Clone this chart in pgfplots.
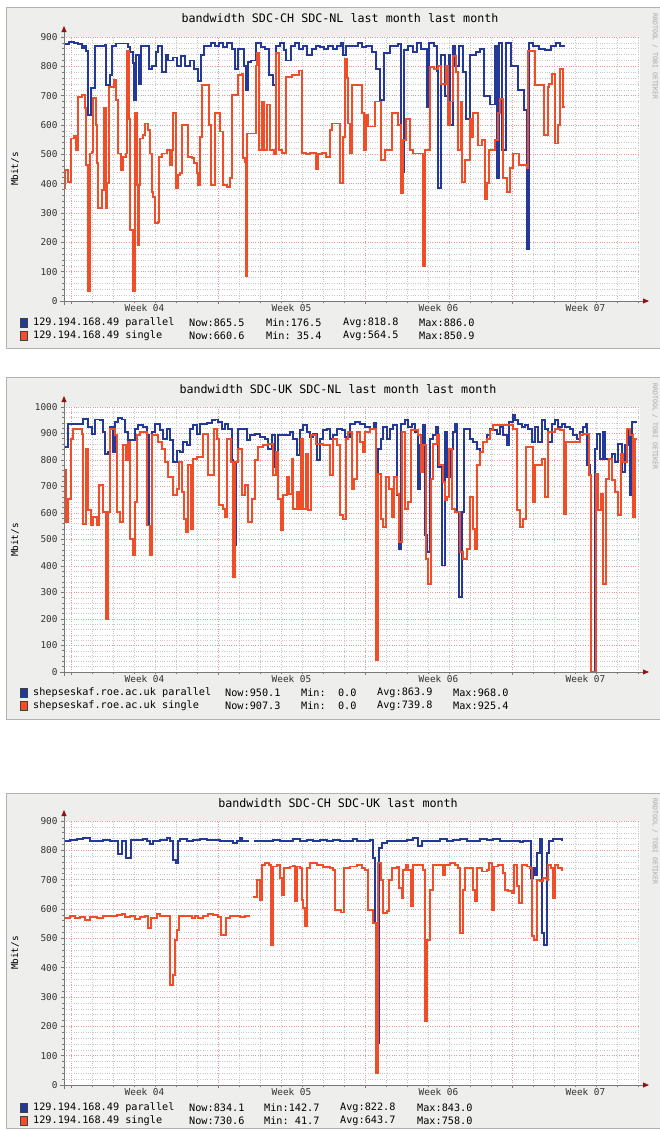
\documentclass[border=0pt]{standalone}
\usepackage{fontspec}
\setmainfont{DejaVu Sans Mono}
\usepackage{pgfplots}
\pgfplotsset{compat=1.18}
\usetikzlibrary{arrows.meta}
\definecolor{rrdblue}{RGB}{36,56,152}
\definecolor{rrdorange}{RGB}{240,78,40}
\definecolor{rrdframe}{RGB}{238,238,236}
\definecolor{rrdaxis}{RGB}{120,120,120}
\definecolor{rrdarrow}{RGB}{140,20,20}
\definecolor{rrdmgrid}{RGB}{232,150,150}
\definecolor{rrdgrid}{RGB}{200,200,200}

\newcommand\tfont{\fontsize{11.7bp}{13bp}\selectfont}
\newcommand\lfont{\fontsize{10.2bp}{12bp}\selectfont}
\newcommand\afont{\fontsize{9.4bp}{11bp}\selectfont}

\pgfplotsset{
  rrd/.style={
    scale only axis, width=576bp, anchor=south west,
    xmin=64, xmax=640, ymin=0,
    axis line style={draw=none},
    axis background/.style={fill=white},
    xtick={71,218,365,512}, xticklabels={},
    minor xtick={92,113,...,638},
    grid=both,
    major grid style={rrdmgrid, dotted, line width=0.6bp},
    minor grid style={rrdgrid, dotted, line width=0.5bp},
    tick style={rrdaxis, line width=0.7bp},
    major tick length=3bp, minor tick length=2bp,
    tick align=outside, tick pos=left,
    extra x ticks={144.5,291.5,438.5,585.5},
    extra x tick labels={Week 04,Week 05,Week 06,Week 07},
    extra x tick style={grid=none, major tick length=0pt},
    ticklabel style={font=\afont, text=black!80},
    /pgf/number format/assume math mode=true,
    /pgf/number format/1000 sep={},
    minor y tick num=4,
    unbounded coords=jump,
  },
  par/.style={rrdblue, line width=1.9bp, const plot},
  sgl/.style={rrdorange, line width=1.9bp, const plot},
}

\begin{document}
\begin{tikzpicture}
\path[use as bounding box] (0,0) rectangle (660bp,-1131bp);
\fill[white] (0,0) rectangle (660bp,-1131bp);
% frames
\filldraw[fill=rrdframe, draw=black!30, line width=0.8bp] (6bp,-7bp) rectangle (662bp,-348bp);
\filldraw[fill=rrdframe, draw=black!30, line width=0.8bp] (6bp,-377bp) rectangle (662bp,-719bp);
\filldraw[fill=rrdframe, draw=black!30, line width=0.8bp] (6bp,-793bp) rectangle (662bp,-1128bp);

% ---------------- panel 1 ----------------
\begin{axis}[rrd, at={(64bp,-301bp)}, height=264bp, ymax=900, ytick={0,100,...,900}]
\addplot[par] table {
x y
65 875
69 884
74 880
78 875
82 864
84 868
86 853
88 635
91 725
95 870
99 870
105 872
106 735
110 770
112 870
116 878
126 878
128 865
130 850
133 810
134 685
136 840
139 740
141 870
145 870
149 790
152 800
156 850
158 870
162 780
166 840
168 820
173 830
177 800
181 835
185 800
190 820
194 790
198 750
201 840
204 870
211 880
215 870
219 880
223 865
227 880
232 860
235 790
238 860
244 800
246 720
248 815
251 820
256 880
261 865
265 860
269 770
273 735
276 870
280 880
284 855
286 820
291 870
295 880
299 860
303 870
307 840
312 860
316 870
320 865
324 860
328 870
333 860
337 870
341 880
343 840
346 870
352 870
358 880
362 865
366 870
372 850
376 790
380 685
384 845
390 870
394 870
398 875
401 441
404 855
408 870
413 850
417 880
421 860
427 660
429 880
434 870
437 785
438 384
441 840
445 700
449 840
450 600
453 870
455 800
459 870
463 780
466 620
470 840
476 850
480 860
484 700
490 670
495 870
497 418
499 880
502 515
506 880
511 800
518 720
524 650
527 176
529 880
533 870
539 860
545 855
551 870
556 880
560 870
564 865
};
\addplot[sgl] table {
x y
64 384
65 446
68 407
71 554
74 562
76 515
78 696
82 702
85 657
86 464
88 35
90 503
92 509
93 691
96 600
97 469
98 316
102 378
104 657
106 316
107 401
109 730
114 752
116 685
118 503
121 446
123 492
126 503
127 853
129 620
130 242
133 35
135 640
137 395
138 191
139 395
140 554
143 566
145 605
148 583
150 503
152 372
153 355
155 265
158 270
159 492
162 503
167 515
170 464
172 515
173 640
176 384
178 430
180 435
182 600
185 600
188 492
192 486
194 470
197 435
198 395
200 560
202 735
209 600
211 395
215 640
220 578
223 395
227 390
230 420
232 702
238 769
242 775
243 486
245 475
246 85
247 571
252 571
256 803
257 847
259 515
262 680
264 515
267 670
270 515
274 500
276 847
279 515
282 505
286 763
292 770
299 786
302 505
306 500
310 505
316 451
318 500
322 505
326 490
330 583
332 605
340 401
343 560
345 825
347 760
348 605
350 503
352 736
362 640
364 515
366 635
368 595
375 680
381 481
385 515
392 640
398 600
401 367
403 549
406 620
410 515
413 503
423 119
425 515
430 797
434 790
438 802
441 740
446 802
448 600
450 680
453 836
456 780
458 515
461 680
462 407
465 481
470 620
472 560
473 640
478 530
482 549
485 349
487 401
489 515
495 549
498 640
500 690
503 418
507 372
510 452
513 503
519 464
527 452
528 853
535 736
544 566
548 730
549 740
552 775
555 537
558 600
560 791
563 660
565 660
};
\end{axis}

% ---------------- panel 2 ----------------
\begin{axis}[rrd, at={(64bp,-672bp)}, height=265bp, ymax=1000, ytick={0,100,...,1000}]
\addplot[par] table {
x y
64 849
67 849
68 937
82 937
83 956
86 956
88 925
92 899
95 953
100 950
103 906
105 824
108 830
110 925
113 830
115 943
118 958
122 953
125 906
128 874
135 918
138 931
143 925
147 893
149 553
152 906
155 937
158 937
160 912
163 880
167 918
170 874
173 792
177 836
180 830
183 868
187 855
190 918
193 931
197 899
200 937
207 941
212 950
215 953
218 943
222 918
225 937
228 918
232 799
233 478
236 792
238 918
247 874
250 893
255 899
260 887
265 880
268 843
272 893
275 774
278 893
283 893
290 906
293 880
297 818
300 912
303 931
307 906
310 887
313 899
317 799
320 880
323 912
327 918
330 880
333 893
337 918
342 912
345 887
350 937
355 943
360 937
365 925
370 918
374 941
376 472
378 843
381 880
383 925
387 880
390 918
393 931
397 667
399 465
401 937
405 950
408 925
412 937
415 906
418 692
420 855
423 931
425 516
427 453
430 880
433 893
436 925
438 774
442 402
445 906
447 736
450 843
453 906
455 937
457 604
459 283
462 604
464 918
470 880
473 868
477 843
480 830
483 868
487 893
490 918
493 912
497 899
500 925
503 893
507 855
509 943
513 969
515 950
518 937
522 925
525 931
528 918
532 868
535 925
538 868
542 950
545 918
548 868
552 937
555 950
558 925
562 937
565 925
570 918
573 893
577 880
580 906
583 925
586 937
587 780
590 742
591 0
594 0
595 843
597 899
600 805
603 906
605 805
608 805
612 824
615 792
618 862
622 755
625 855
628 918
630 667
632 943
637 943
};
\addplot[sgl] table {
x y
64 761
66 566
68 654
71 880
73 918
82 899
83 560
86 843
88 610
91 553
93 585
97 553
99 704
103 604
106 201
108 604
110 918
115 893
117 604
120 566
123 855
126 799
128 868
130 503
133 440
135 642
137 893
140 906
147 553
150 440
152 893
158 868
162 843
165 792
168 736
173 667
177 692
179 792
182 679
184 579
186 528
188 780
191 541
193 805
197 811
203 899
208 742
214 918
217 880
219 629
223 616
225 585
227 880
231 792
233 358
235 792
238 843
242 667
245 704
248 566
252 654
255 799
258 849
263 855
268 862
273 742
276 830
278 654
281 535
283 667
287 736
289 673
292 805
293 616
297 679
299 616
301 880
303 616
306 824
308 610
311 893
316 862
323 855
330 742
333 880
337 855
340 591
343 579
346 880
348 906
352 692
354 730
357 906
360 868
363 830
365 906
370 918
376 44
378 748
381 579
383 547
386 736
389 692
392 585
394 736
397 673
399 491
402 906
405 616
408 642
411 912
418 893
421 755
423 855
426 428
428 333
431 730
433 862
437 893
439 780
443 717
445 648
447 660
449 843
452 616
455 604
460 453
463 428
467 465
470 660
473 541
475 465
477 780
480 830
483 868
487 880
490 912
493 931
513 918
517 610
520 547
523 579
526 849
533 642
535 780
542 805
545 660
548 906
555 918
560 912
564 597
566 868
580 893
583 899
589 742
591 0
594 0
596 748
598 610
601 673
603 333
606 730
609 805
612 723
615 679
618 591
621 824
623 792
627 918
630 893
633 585
635 880
637 880
};
\end{axis}

% ---------------- panel 3 ----------------
\begin{axis}[rrd, at={(64bp,-1085bp)}, height=264bp, ymax=900, ytick={0,100,...,900}]
\addplot[par] table {
x y
64 833
70 836
77 838
83 841
90 833
97 833
103 836
110 833
117 833
118 787
122 832
125 832
126 773
129 773
131 836
137 836
143 838
147 833
150 822
153 832
160 836
167 841
170 832
173 768
176 756
178 832
180 838
187 833
193 836
200 838
207 836
213 836
220 833
227 833
233 824
237 832
240 841
242 833
249 833
251 nan
254 833
260 833
267 832
273 836
280 833
287 833
293 838
300 832
307 836
313 832
320 836
327 833
333 836
340 832
347 833
353 838
357 832
363 833
370 836
373 773
375 552
377 144
379 807
382 824
387 832
393 833
400 832
407 836
413 841
417 841
418 815
422 832
427 832
433 833
440 838
447 833
453 836
460 838
467 833
473 833
480 838
487 836
493 838
500 833
507 833
513 833
520 827
523 833
529 832
531 705
533 739
535 717
537 790
540 838
542 518
544 478
547 790
549 833
553 838
562 833
};
\addplot[sgl] table {
x y
64 569
70 575
75 569
80 573
85 563
90 573
97 569
103 575
110 577
117 580
122 584
125 573
130 575
135 566
140 573
145 575
148 535
151 569
153 569
157 584
160 575
168 575
170 342
173 376
175 495
177 529
179 575
183 577
188 575
192 569
195 577
198 569
203 577
208 584
213 580
218 573
221 512
224 512
226 569
230 577
235 575
240 573
245 577
249 580
251 nan
253 640
256 640
257 700
259 700
260 632
262 751
265 756
269 751
271 478
273 745
277 751
280 705
282 648
284 739
290 745
293 747
295 626
297 745
300 739
302 632
303 605
305 541
307 739
310 756
317 751
323 743
330 739
333 733
335 598
341 588
344 739
350 745
357 751
362 739
365 734
368 598
372 598
373 552
376 42
378 756
381 700
383 586
387 592
389 700
392 739
397 745
399 671
402 637
403 734
406 751
408 734
411 609
413 751
418 751
423 734
425 218
427 495
430 665
433 751
438 751
443 717
445 751
450 756
455 751
458 739
460 518
463 665
465 739
470 739
473 665
475 626
477 739
482 728
487 734
489 756
492 598
494 745
498 751
503 723
505 665
508 660
512 654
514 751
517 677
519 620
522 751
527 745
530 739
532 507
534 495
537 700
540 694
543 705
547 700
548 751
551 739
553 637
555 751
558 739
562 731
};
\end{axis}

% axes, arrows
\foreach \yb/\yt in {301/30, 672/400, 1085/814}{
  \draw[rrdaxis, line width=1bp] (60bp,-\yb bp) -- (645bp,-\yb bp);
  \fill[rrdarrow] (649bp,-\yb bp) -- (643bp,-\yb bp+2.6bp) -- (643bp,-\yb bp-2.6bp) -- cycle;
  \draw[rrdaxis, line width=1bp] (64bp,-\yb bp-4bp) -- (64bp,-\yt bp);
  \fill[rrdarrow] (64bp,-\yt bp+4bp) -- (66.6bp,-\yt bp-2bp) -- (61.4bp,-\yt bp-2bp) -- cycle;
}

% titles
\node[font=\tfont] at (340bp,-18bp) {bandwidth SDC-CH SDC-NL last month last month};
\node[font=\tfont] at (338bp,-389bp) {bandwidth SDC-UK SDC-NL last month last month};
\node[font=\tfont] at (338bp,-803bp) {bandwidth SDC-CH SDC-UK last month};

% y labels
\node[font=\afont, rotate=90] at (15bp,-169bp) {Mbit/s};
\node[font=\afont, rotate=90] at (15bp,-540bp) {Mbit/s};
\node[font=\afont, rotate=90] at (15bp,-953bp) {Mbit/s};

% watermark
\foreach \yw in {10,380,795}{
  \node[font=\fontsize{6.5bp}{7bp}\selectfont, text=black!35, rotate=-90, anchor=west] at (655bp,-\yw bp) {RRDTOOL / TOBI OETIKER};
}

% legends
\newcommand\legrow[7]{%
  \filldraw[fill=#2, draw=black!75, line width=0.6bp] (20bp,-#1bp+4.5bp) rectangle (27bp,-#1bp-4.5bp);
  \node[font=\lfont, anchor=west, inner sep=0pt] at (33bp,-#1bp) {#3};
  \node[font=\lfont, anchor=west, inner sep=0pt] at (#4,-#1bp) {#5};
  \node[font=\lfont, anchor=west, inner sep=0pt] at (#6,-#1bp) {#7};
}
\legrow{323}{rrdblue}{129.194.168.49 parallel}{189bp}{Now:865.5}{266bp}{Min:176.5}
\node[font=\lfont, anchor=west, inner sep=0pt] at (343bp,-323bp) {Avg:818.8};
\node[font=\lfont, anchor=west, inner sep=0pt] at (419bp,-323bp) {Max:886.0};
\legrow{336}{rrdorange}{129.194.168.49 single}{189bp}{Now:660.6}{266bp}{Min:\ 35.4}
\node[font=\lfont, anchor=west, inner sep=0pt] at (343bp,-336bp) {Avg:564.5};
\node[font=\lfont, anchor=west, inner sep=0pt] at (419bp,-336bp) {Max:850.9};

\legrow{693}{rrdblue}{shepseskaf.roe.ac.uk parallel}{225bp}{Now:950.1}{301bp}{Min:\ \ 0.0}
\node[font=\lfont, anchor=west, inner sep=0pt] at (377bp,-693bp) {Avg:863.9};
\node[font=\lfont, anchor=west, inner sep=0pt] at (453bp,-693bp) {Max:968.0};
\legrow{706}{rrdorange}{shepseskaf.roe.ac.uk single}{225bp}{Now:907.3}{301bp}{Min:\ \ 0.0}
\node[font=\lfont, anchor=west, inner sep=0pt] at (377bp,-706bp) {Avg:739.8};
\node[font=\lfont, anchor=west, inner sep=0pt] at (453bp,-706bp) {Max:925.4};

\legrow{1108}{rrdblue}{129.194.168.49 parallel}{189bp}{Now:834.1}{264bp}{Min:142.7}
\node[font=\lfont, anchor=west, inner sep=0pt] at (340bp,-1108bp) {Avg:822.8};
\node[font=\lfont, anchor=west, inner sep=0pt] at (417bp,-1108bp) {Max:843.0};
\legrow{1121}{rrdorange}{129.194.168.49 single}{189bp}{Now:730.6}{264bp}{Min:\ 41.7}
\node[font=\lfont, anchor=west, inner sep=0pt] at (340bp,-1121bp) {Avg:643.7};
\node[font=\lfont, anchor=west, inner sep=0pt] at (417bp,-1121bp) {Max:758.0};
\end{tikzpicture}
\end{document}
